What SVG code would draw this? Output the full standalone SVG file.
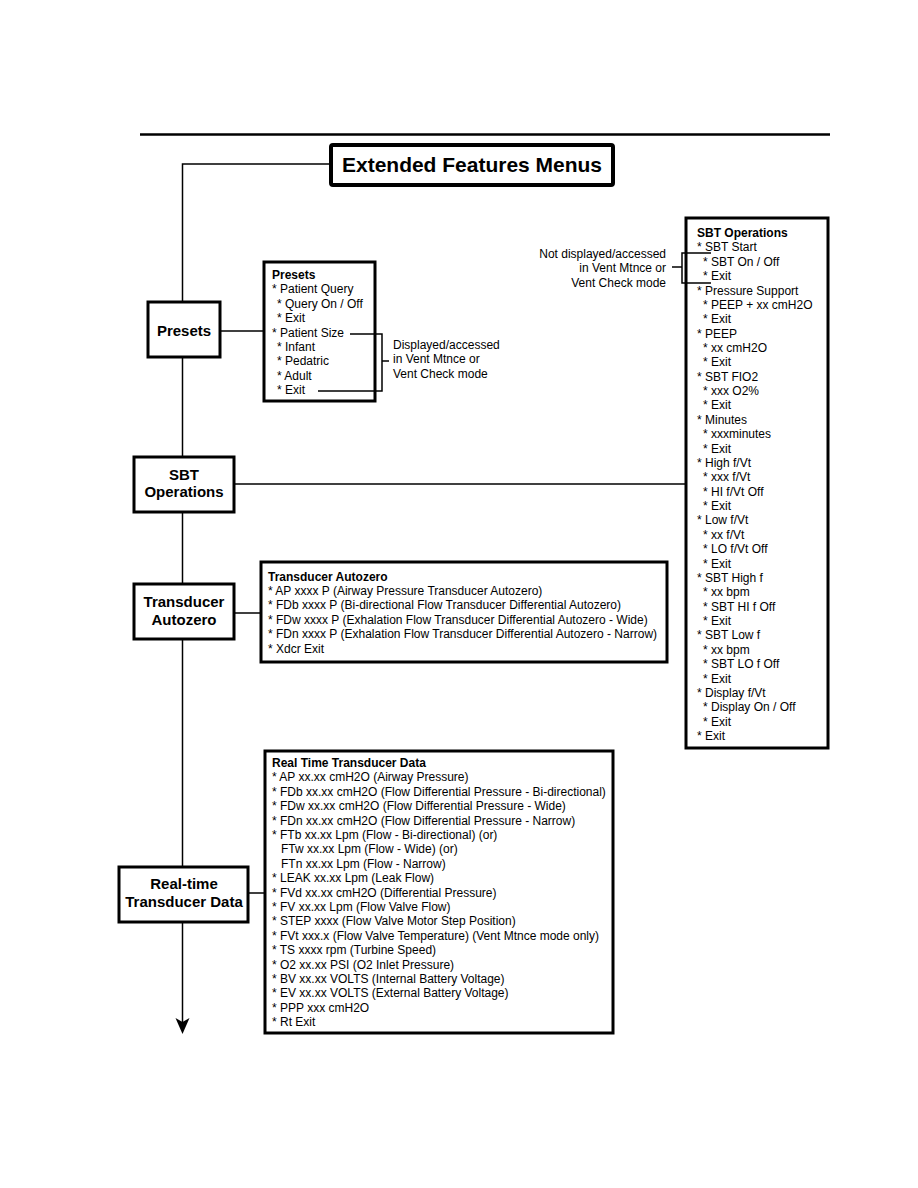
<svg xmlns="http://www.w3.org/2000/svg" width="918" height="1188" viewBox="0 0 918 1188">
<style>
.box{fill:#fff;stroke:#000;stroke-width:3}
.ln{fill:none;stroke:#000;stroke-width:1.5}
.nl{font-family:"Liberation Sans",Arial,sans-serif;font-size:15px;font-weight:bold;text-anchor:middle;fill:#000}
.t{font-family:"Liberation Sans",Arial,sans-serif;font-size:12px;fill:#000}
.b{font-weight:bold}
.r{text-anchor:end}
</style>
<rect width="918" height="1188" fill="#fff"/>
<line x1="140" y1="134.5" x2="830" y2="134.5" stroke="#000" stroke-width="2.5"/>

<g id="title">
  <rect x="331" y="145" width="282" height="40" rx="2" fill="#fff" stroke="#000" stroke-width="4"/>
  <text x="472" y="172" class="nl" style="font-size:21px" textLength="260" lengthAdjust="spacingAndGlyphs">Extended Features Menus</text>
</g>

<g id="node-presets">
  <rect class="box" x="148" y="302" width="72" height="55"/>
  <text class="nl" x="184" y="336">Presets</text>
</g>

<g id="node-sbt">
  <rect class="box" x="134" y="457" width="100" height="55"/>
  <text class="nl" x="184" y="480">SBT</text>
  <text class="nl" x="184" y="497">Operations</text>
</g>

<g id="node-ta">
  <rect class="box" x="134" y="584" width="100" height="55"/>
  <text class="nl" x="184" y="607">Transducer</text>
  <text class="nl" x="184" y="625">Autozero</text>
</g>

<g id="node-rt">
  <rect class="box" x="119" y="867" width="129" height="55"/>
  <text class="nl" x="184" y="889">Real-time</text>
  <text class="nl" x="184" y="907">Transducer Data</text>
</g>

<g id="presets-menu">
  <rect class="box" x="264" y="262" width="111" height="139"/>
  <text class="t b" x="272" y="279">Presets</text>
  <text class="t" x="272" y="293.4">* Patient Query</text>
  <text class="t" x="277" y="307.8">* Query On / Off</text>
  <text class="t" x="277" y="322.2">* Exit</text>
  <text class="t" x="272" y="336.6">* Patient Size</text>
  <text class="t" x="277" y="351">* Infant</text>
  <text class="t" x="277" y="365.4">* Pedatric</text>
  <text class="t" x="277" y="379.8">* Adult</text>
  <text class="t" x="277" y="394.2">* Exit</text>
</g>

<g id="note-presets">
  <text class="t" x="393" y="349">Displayed/accessed</text>
  <text class="t" x="393" y="363.4">in Vent Mtnce or</text>
  <text class="t" x="393" y="377.8">Vent Check mode</text>
</g>

<g id="note-sbt">
  <text class="t r" x="666" y="258">Not displayed/accessed</text>
  <text class="t r" x="666" y="272.4">in Vent Mtnce or</text>
  <text class="t r" x="666" y="286.8">Vent Check mode</text>
</g>

<g id="sbt-menu">
  <rect class="box" x="686" y="218" width="142" height="530"/>
  <text class="t b" x="697" y="237">SBT Operations</text>
  <text class="t" x="697" y="251.4">* SBT Start</text>
  <text class="t" x="703" y="265.7">* SBT On / Off</text>
  <text class="t" x="703" y="280.1">* Exit</text>
  <text class="t" x="697" y="294.5">* Pressure Support</text>
  <text class="t" x="703" y="308.9">* PEEP + xx cmH2O</text>
  <text class="t" x="703" y="323.2">* Exit</text>
  <text class="t" x="697" y="337.6">* PEEP</text>
  <text class="t" x="703" y="352">* xx cmH2O</text>
  <text class="t" x="703" y="366.3">* Exit</text>
  <text class="t" x="697" y="380.7">* SBT FIO2</text>
  <text class="t" x="703" y="395.1">* xxx O2%</text>
  <text class="t" x="703" y="409.4">* Exit</text>
  <text class="t" x="697" y="423.8">* Minutes</text>
  <text class="t" x="703" y="438.2">* xxxminutes</text>
  <text class="t" x="703" y="452.6">* Exit</text>
  <text class="t" x="697" y="466.9">* High f/Vt</text>
  <text class="t" x="703" y="481.3">* xxx f/Vt</text>
  <text class="t" x="703" y="495.7">* HI f/Vt Off</text>
  <text class="t" x="703" y="510">* Exit</text>
  <text class="t" x="697" y="524.4">* Low f/Vt</text>
  <text class="t" x="703" y="538.8">* xx f/Vt</text>
  <text class="t" x="703" y="553.1">* LO f/Vt Off</text>
  <text class="t" x="703" y="567.5">* Exit</text>
  <text class="t" x="697" y="581.9">* SBT High f</text>
  <text class="t" x="703" y="596.3">* xx bpm</text>
  <text class="t" x="703" y="610.6">* SBT HI f Off</text>
  <text class="t" x="703" y="625">* Exit</text>
  <text class="t" x="697" y="639.4">* SBT Low f</text>
  <text class="t" x="703" y="653.7">* xx bpm</text>
  <text class="t" x="703" y="668.1">* SBT LO f Off</text>
  <text class="t" x="703" y="682.5">* Exit</text>
  <text class="t" x="697" y="696.8">* Display f/Vt</text>
  <text class="t" x="703" y="711.2">* Display On / Off</text>
  <text class="t" x="703" y="725.6">* Exit</text>
  <text class="t" x="697" y="740">* Exit</text>
</g>

<g id="ta-menu">
  <rect class="box" x="261" y="562" width="406" height="100"/>
  <text class="t b" x="268" y="580.5">Transducer Autozero</text>
  <text class="t" x="268" y="594.9">* AP xxxx P (Airway Pressure Transducer Autozero)</text>
  <text class="t" x="268" y="609.3">* FDb xxxx P (Bi-directional Flow Transducer Differential Autozero)</text>
  <text class="t" x="268" y="623.7">* FDw xxxx P (Exhalation Flow Transducer Differential Autozero - Wide)</text>
  <text class="t" x="268" y="638.1">* FDn xxxx P (Exhalation Flow Transducer Differential Autozero - Narrow)</text>
  <text class="t" x="268" y="652.5">* Xdcr Exit</text>
</g>

<g id="rt-menu">
  <rect class="box" x="265" y="751" width="348" height="282"/>
  <text class="t b" x="272" y="767">Real Time Transducer Data</text>
  <text class="t" x="272" y="781.4">* AP xx.xx cmH2O (Airway Pressure)</text>
  <text class="t" x="272" y="795.8">* FDb xx.xx cmH2O (Flow Differential Pressure - Bi-directional)</text>
  <text class="t" x="272" y="810.2">* FDw xx.xx cmH2O (Flow Differential Pressure - Wide)</text>
  <text class="t" x="272" y="824.6">* FDn xx.xx cmH2O (Flow Differential Pressure - Narrow)</text>
  <text class="t" x="272" y="839">* FTb xx.xx Lpm (Flow - Bi-directional) (or)</text>
  <text class="t" x="281" y="853.4">FTw xx.xx Lpm (Flow - Wide) (or)</text>
  <text class="t" x="281" y="867.8">FTn xx.xx Lpm (Flow - Narrow)</text>
  <text class="t" x="272" y="882.2">* LEAK xx.xx Lpm (Leak Flow)</text>
  <text class="t" x="272" y="896.6">* FVd xx.xx cmH2O (Differential Pressure)</text>
  <text class="t" x="272" y="911">* FV xx.xx Lpm (Flow Valve Flow)</text>
  <text class="t" x="272" y="925.4">* STEP xxxx (Flow Valve Motor Step Position)</text>
  <text class="t" x="272" y="939.8">* FVt xxx.x (Flow Valve Temperature) (Vent Mtnce mode only)</text>
  <text class="t" x="272" y="954.2">* TS xxxx rpm (Turbine Speed)</text>
  <text class="t" x="272" y="968.6">* O2 xx.xx PSI (O2 Inlet Pressure)</text>
  <text class="t" x="272" y="983">* BV xx.xx VOLTS (Internal Battery Voltage)</text>
  <text class="t" x="272" y="997.4">* EV xx.xx VOLTS (External Battery Voltage)</text>
  <text class="t" x="272" y="1011.8">* PPP xxx cmH2O</text>
  <text class="t" x="272" y="1026.2">* Rt Exit</text>
</g>

<g id="connectors">
  <polyline class="ln" points="330,164 182.5,164 182.5,302"/>
  <line class="ln" x1="182.5" y1="357" x2="182.5" y2="457"/>
  <line class="ln" x1="182.5" y1="512" x2="182.5" y2="584"/>
  <line class="ln" x1="182.5" y1="639" x2="182.5" y2="867"/>
  <line class="ln" x1="182.5" y1="922" x2="182.5" y2="1022"/>
  <polygon points="182.5,1034 175.5,1018 182.5,1022 189.5,1018" fill="#000"/>
  <line class="ln" x1="220" y1="331" x2="264" y2="331"/>
  <line class="ln" x1="234" y1="484" x2="685" y2="484"/>
  <line class="ln" x1="234" y1="613" x2="261" y2="613"/>
  <line class="ln" x1="248" y1="893" x2="265" y2="893"/>
  <polyline class="ln" points="350,334 382,334 382,391 318,391"/>
  <line class="ln" x1="382" y1="361" x2="389" y2="361"/>
  <polyline class="ln" points="711,253 682,253 682,283 711,283"/>
  <line class="ln" x1="672" y1="267" x2="682" y2="267"/>
</g>
</svg>
